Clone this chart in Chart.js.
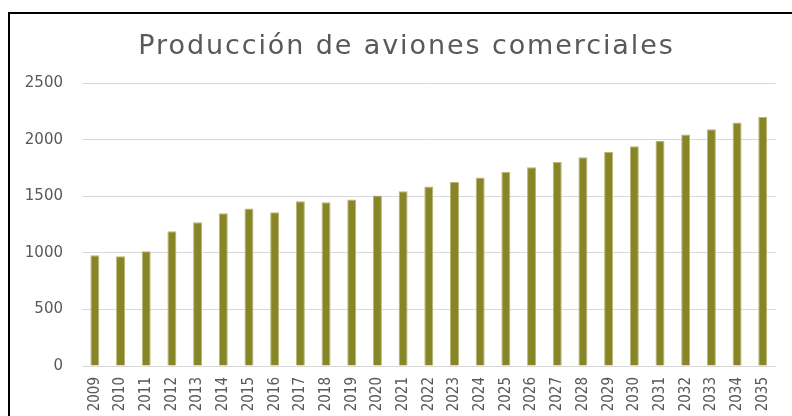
<!DOCTYPE html>
<html>
<head>
<meta charset="utf-8">
<script src="https://cdn.jsdelivr.net/npm/chart.js@4/dist/chart.umd.min.js"></script>
<style>
  html, body { margin: 0; padding: 0; background: #fff; overflow: hidden; }
  #wrap { position: relative; width: 792px; height: 416px; }
  #frame {
    position: absolute; left: 8px; top: 12px; width: 900px; height: 500px;
    border-left: 2px solid #000; border-top: 2px solid #000; pointer-events: none;
  }
</style>
</head>
<body>
<div id="wrap">
  <canvas id="c" width="792" height="416"></canvas>
  <div id="frame"></div>
</div>
<script>
// Años y producción estimada
const years = ['2009','2010','2011','2012','2013','2014','2015','2016','2017','2018',
               '2019','2020','2021','2022','2023','2024','2025','2026','2027','2028',
               '2029','2030','2031','2032','2033','2034','2035'];
const produccion = [980, 972, 1015, 1193, 1272, 1352, 1393, 1360, 1458, 1449,
                    1473, 1508, 1546, 1587, 1628, 1667, 1716, 1758, 1805, 1846,
                    1894, 1943, 1990, 2049, 2094, 2153, 2202];
const yTicks = [0, 500, 1000, 1500, 2000, 2500];

const GRAY = '#595959';

// El recuadro original es más ancho que la ventana: se corre el título
// y se le da algo de espaciado entre letras.
const titleTweak = {
  id: 'titleTweak',
  afterInit(chart) {
    const tb = chart.titleBlock;
    const orig = tb.draw.bind(tb);
    tb.draw = function () {
      const ctx = chart.ctx;
      ctx.save();
      ctx.letterSpacing = '1.9px';
      orig();
      ctx.restore();
    };
  },
  afterLayout(chart) {
    chart.titleBlock.left = 34;
  },
};

new Chart(document.getElementById('c'), {
  type: 'bar',
  data: {
    labels: years,
    datasets: [{
      data: produccion,
      backgroundColor: '#888526',
      borderColor: '#b8b677',
      borderWidth: 1,
      barPercentage: 0.35,
      categoryPercentage: 1.0,
    }],
  },
  options: {
    responsive: false,
    animation: false,
    layout: { padding: { left: 0, right: 13, top: 0, bottom: 0 } },
    plugins: {
      legend: { display: false },
      tooltip: { enabled: false },
      title: {
        display: true,
        text: 'Producción de aviones comerciales',
        color: GRAY,
        font: { family: 'DejaVu Sans', size: 27, weight: 'normal' },
        padding: { top: 31, bottom: 20 },
      },
    },
    scales: {
      x: {
        grid: { display: false, drawTicks: false },
        border: { display: false },
        ticks: {
          color: GRAY,
          font: { family: 'DejaVu Sans Condensed', size: 15 },
          minRotation: 90,
          maxRotation: 90,
          autoSkip: false,
          padding: 11,
        },
        afterFit: (s) => { s.height = 50; },
      },
      y: {
        min: 0,
        max: 2500,
        afterBuildTicks: (s) => { s.ticks = yTicks.map(v => ({ value: v })); },
        grid: { color: '#d9d9d9', lineWidth: 1, drawTicks: false },
        border: { display: false },
        ticks: {
          color: GRAY,
          font: { family: 'DejaVu Sans', size: 15 },
          padding: 19,
          callback: (v) => String(v),
        },
        afterFit: (s) => { s.width = 82; },
      },
    },
  },
  plugins: [titleTweak],
});
</script>
</body>
</html>
